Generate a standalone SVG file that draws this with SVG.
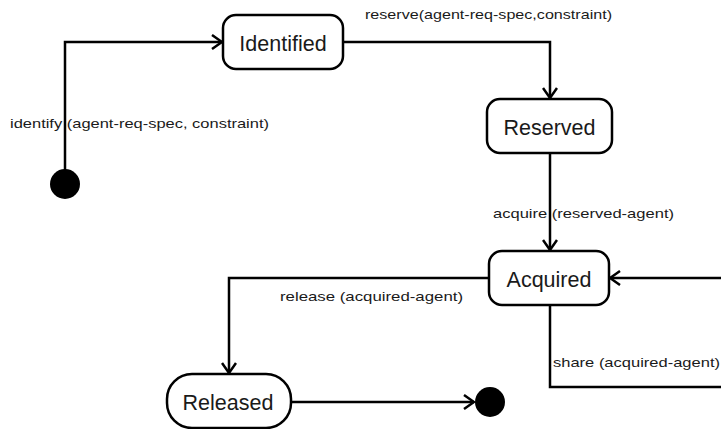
<svg xmlns="http://www.w3.org/2000/svg" width="721" height="429" viewBox="0 0 721 429">
  <style>
    .state { fill: #ffffff; stroke: #000000; stroke-width: 2.5; }
    .name { font-family: "Liberation Sans", Arial, sans-serif; font-size: 21.5px; fill: #1a1a1a; text-anchor: middle; }
    .lbl { font-family: "Liberation Sans", Arial, sans-serif; font-size: 13.5px; fill: #1a1a1a; }
    .edge { fill: none; stroke: #000000; stroke-width: 2.5; marker-end: url(#open); }
    .dot { fill: #000000; }
  </style>
  <defs>
    <marker id="open" viewBox="0 0 12 16" refX="11" refY="8" markerWidth="12" markerHeight="16" markerUnits="userSpaceOnUse" orient="auto">
      <path d="M1,1 L11,8 L1,15" fill="none" stroke="#000000" stroke-width="2.5"/>
    </marker>
  </defs>
  <rect width="721" height="429" fill="#ffffff"/>

  <g id="connectors">
    <path class="edge" d="M65,184 V42 H222"/>
    <path class="edge" d="M343,42 H550 V98"/>
    <path class="edge" d="M550,153 V250"/>
    <path class="edge" d="M489,278 H229 V373"/>
    <path class="edge" d="M291,402 H474"/>
    <path class="edge" d="M550,305 V387 H735 V278 H610"/>
  </g>

  <g id="edge-labels">
    <text class="lbl" x="10" y="128" textLength="259" lengthAdjust="spacingAndGlyphs">identify (agent-req-spec, constraint)</text>
    <text class="lbl" x="365" y="19" textLength="247" lengthAdjust="spacingAndGlyphs">reserve(agent-req-spec,constraint)</text>
    <text class="lbl" x="493" y="218" textLength="181" lengthAdjust="spacingAndGlyphs">acquire (reserved-agent)</text>
    <text class="lbl" x="280" y="301" textLength="183" lengthAdjust="spacingAndGlyphs">release (acquired-agent)</text>
    <text class="lbl" x="553" y="367" textLength="167" lengthAdjust="spacingAndGlyphs">share (acquired-agent)</text>
  </g>

  <g id="initial">
    <circle class="dot" cx="65" cy="184" r="15"/>
  </g>
  <g id="identified">
    <rect class="state" x="223" y="15" width="120" height="54" rx="13"/>
    <text class="name" x="283" y="51">Identified</text>
  </g>
  <g id="reserved">
    <rect class="state" x="487" y="99" width="125" height="54" rx="13"/>
    <text class="name" x="549.5" y="135">Reserved</text>
  </g>
  <g id="acquired">
    <rect class="state" x="489" y="251" width="120" height="54" rx="13"/>
    <text class="name" x="549" y="287">Acquired</text>
  </g>
  <g id="released">
    <rect class="state" x="167" y="374" width="124" height="54" rx="25"/>
    <text class="name" x="228" y="410">Released</text>
  </g>
  <g id="final">
    <circle class="dot" cx="490" cy="402" r="15"/>
  </g>
</svg>
